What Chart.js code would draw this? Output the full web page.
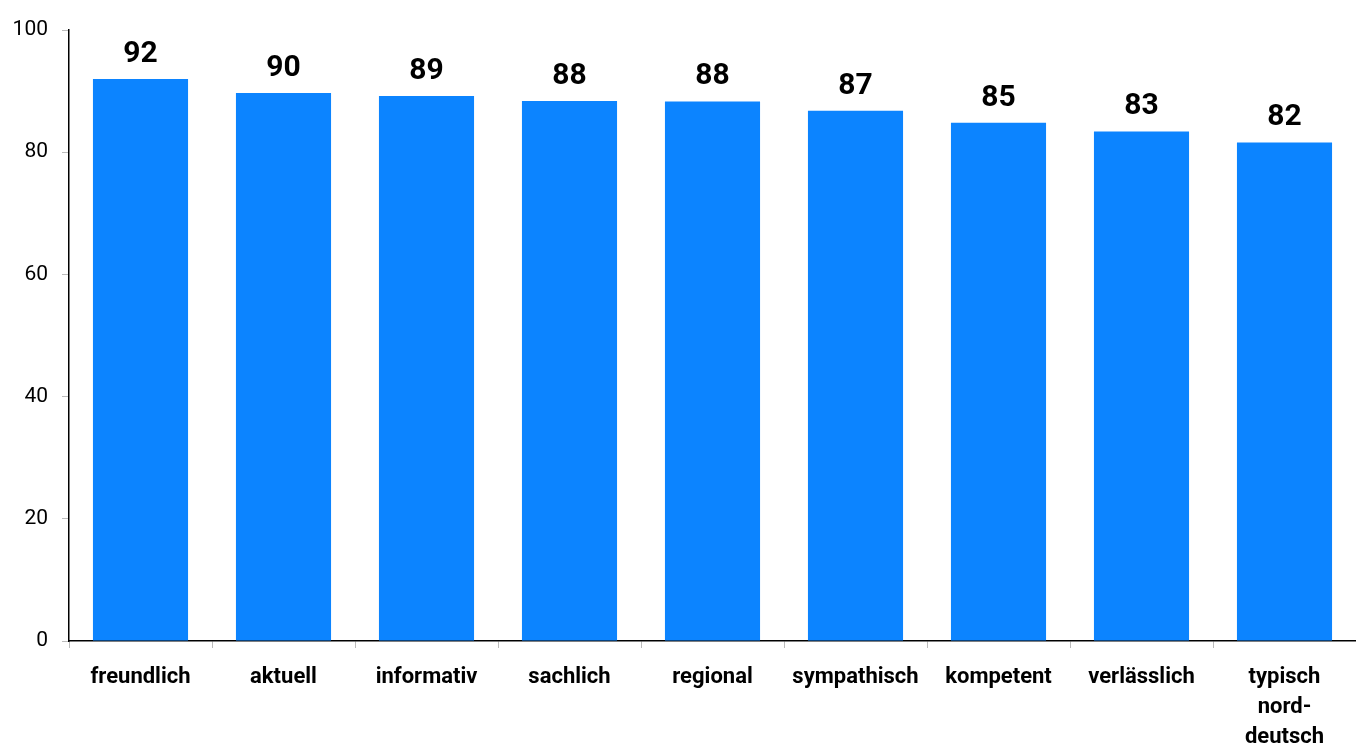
<!DOCTYPE html>
<html>
<head>
<meta charset="utf-8">
<script src="https://cdn.jsdelivr.net/npm/chart.js@4"></script>
<style>
  html, body { margin: 0; padding: 0; background: #fff; }
  #wrap { width: 1356px; height: 745px; }
</style>
</head>
<body>
<div id="wrap"><canvas id="imageChart"></canvas></div>
<script>
// Attribute ratings (percent), one bar per attribute
const attributes = [
  "freundlich", "aktuell", "informativ", "sachlich", "regional",
  "sympathisch", "kompetent", "verlässlich", ["typisch", "nord-", "deutsch"]
];
const shares = [92.0, 89.7, 89.2, 88.4, 88.3, 86.8, 84.8, 83.4, 81.6];
const yTicks = [0, 20, 40, 60, 80, 100];

const FONT = "Roboto, 'Liberation Sans', sans-serif";
const BAR_BLUE = "#0c84ff";

// value labels above each bar
const valueLabels = {
  id: "valueLabels",
  afterDatasetsDraw(chart) {
    const ctx = chart.ctx;
    const meta = chart.getDatasetMeta(0);
    ctx.save();
    ctx.font = "bold 30px " + FONT;
    ctx.fillStyle = "#000";
    ctx.textAlign = "center";
    ctx.textBaseline = "alphabetic";
    meta.data.forEach((bar, i) => {
      ctx.fillText(String(Math.round(shares[i])), bar.x, bar.y - 17);
    });
    ctx.restore();
  },
};

new Chart(document.getElementById("imageChart").getContext("2d"), {
  type: "bar",
  data: {
    labels: attributes,
    datasets: [
      {
        data: shares,
        backgroundColor: BAR_BLUE,
        borderWidth: 0,
        categoryPercentage: 1,
        barPercentage: 0.665,
      },
    ],
  },
  options: {
    responsive: true,
    maintainAspectRatio: false,
    animation: false,
    layout: { padding: { top: 30, right: 0, left: 0, bottom: 0 } },
    plugins: { legend: { display: false }, tooltip: { enabled: false } },
    scales: {
      x: {
        afterFit: (scale) => {
          scale.height = 104;
        },
        grid: {
          display: true,
          drawOnChartArea: false,
          offset: true,
          tickLength: 7,
          color: "#bbbbbb",
        },
        border: { color: "#000", width: 1.5 },
        ticks: {
          color: "#000",
          font: { family: FONT, size: 22, weight: "bold", lineHeight: 1.36 },
          padding: 15,
          maxRotation: 0,
          autoSkip: false,
        },
      },
      y: {
        min: 0,
        max: 100,
        afterBuildTicks: (scale) => {
          scale.ticks = yTicks.map((v) => ({ value: v }));
        },
        afterFit: (scale) => {
          scale.width = 69;
        },
        grid: {
          display: true,
          drawOnChartArea: false,
          tickLength: 7,
          color: "#bbbbbb",
        },
        border: { color: "#000", width: 1.5 },
        ticks: {
          color: "#000",
          font: { family: FONT, size: 21 },
          padding: 14,
        },
      },
    },
  },
  plugins: [valueLabels],
});
</script>
</body>
</html>
